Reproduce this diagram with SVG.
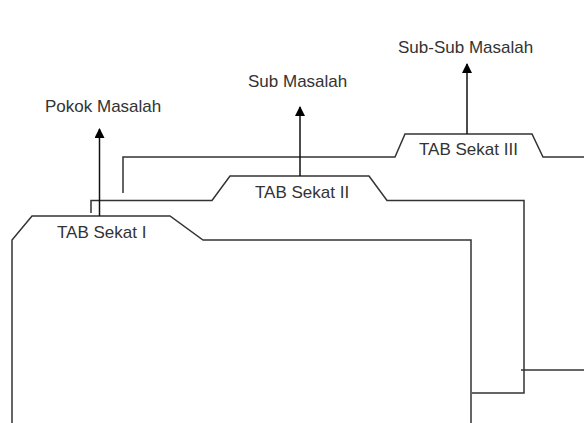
<svg xmlns="http://www.w3.org/2000/svg" width="584" height="423" viewBox="0 0 584 423">
<defs>
<marker id="ah" markerWidth="10" markerHeight="10" refX="9" refY="5" orient="auto" markerUnits="userSpaceOnUse" viewBox="0 0 10 10">
<path d="M0,0 L10,5 L0,10 Z" fill="#000"/>
</marker>
<style>
.ln{fill:none;stroke:#333;stroke-width:1.5}
.ar{fill:none;stroke:#111;stroke-width:1.5}
.t{font-family:"Liberation Sans",Arial,sans-serif;font-size:17px;fill:#333}
</style>
</defs>
<rect width="584" height="423" fill="#fff"/>
<g id="tab3">
<path class="ln" d="M123,193 V157 H395 L405,134 H532 L543,157 H584"/>
<path class="ln" d="M584,370 H521"/>
<text class="t" x="419" y="155">TAB Sekat III</text>
</g>
<g id="tab2">
<path class="ln" d="M91,213 V200.5 H212 L230,176 H369 L387,200.5 H524 V393 H472"/>
<text class="t" x="255" y="198">TAB Sekat II</text>
</g>
<g id="tab1">
<path class="ln" d="M12,423 V240 L32,216 H170 L203,240 H471 V423"/>
<text class="t" x="57" y="238">TAB Sekat I</text>
</g>
<g id="labels">
<text class="t" x="45" y="112">Pokok Masalah</text>
<text class="t" x="248" y="87">Sub Masalah</text>
<text class="t" x="398" y="53">Sub-Sub Masalah</text>
</g>
<g id="connectors">
<line class="ar" x1="99.5" y1="216" x2="99.5" y2="129" marker-end="url(#ah)"/>
<line class="ar" x1="300" y1="176" x2="300" y2="107" marker-end="url(#ah)"/>
<line class="ar" x1="467" y1="134" x2="467" y2="64" marker-end="url(#ah)"/>
</g>
</svg>
